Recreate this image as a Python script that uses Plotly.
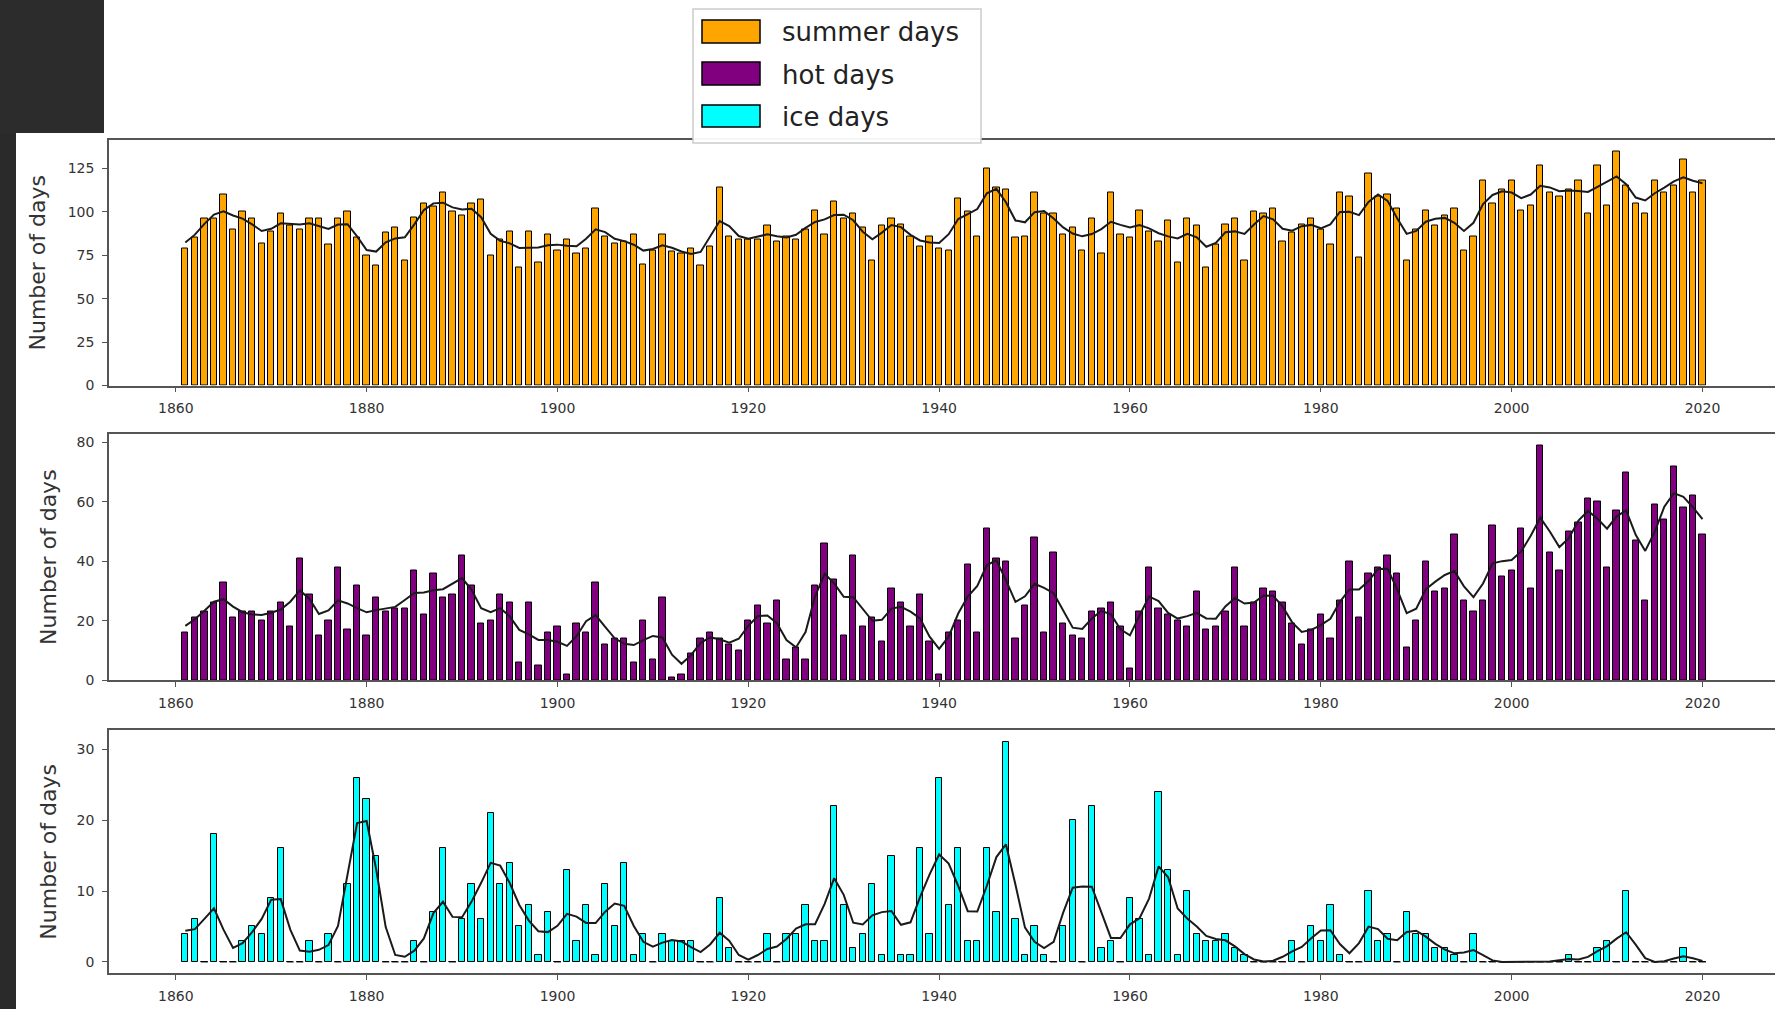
import numpy as np
import plotly.graph_objects as go

years = list(range(1861, 2021))

summer_days = [
    79, 85, 96, 96, 110, 90, 100, 96, 82, 89,
    99, 92, 90, 96, 96, 81, 96, 100, 85, 75,
    69, 88, 91, 72, 97, 105, 103, 111, 100, 98,
    105, 107, 75, 84, 89, 68, 89, 71, 87, 78,
    84, 76, 79, 102, 86, 82, 83, 87, 70, 78,
    87, 77, 76, 79, 69, 80, 114, 86, 84, 84,
    84, 92, 83, 86, 84, 90, 101, 87, 106, 96,
    99, 91, 72, 92, 96, 93, 86, 80, 86, 79,
    78, 108, 100, 86, 125, 114, 113, 85, 86, 111,
    99, 99, 87, 91, 78, 96, 76, 111, 87, 85,
    101, 89, 83, 95, 71, 96, 92, 68, 81, 93,
    96, 72, 100, 99, 102, 83, 88, 93, 96, 90,
    81, 111, 109, 74, 122, 109, 110, 102, 72, 90,
    101, 92, 98, 102, 78, 86, 118, 105, 113, 118,
    101, 104, 127, 111, 109, 113, 118, 99, 127, 104,
    135, 115, 105, 99, 118, 111, 115, 130, 111, 118,
]

hot_days = [
    16, 21, 23, 26, 33, 21, 23, 23, 20, 23,
    26, 18, 41, 29, 15, 20, 38, 17, 32, 15,
    28, 23, 24, 24, 37, 22, 36, 28, 29, 42,
    32, 19, 20, 29, 26, 6, 26, 5, 16, 18,
    2, 19, 16, 33, 12, 14, 14, 6, 20, 7,
    28, 1, 2, 9, 14, 16, 14, 12, 10, 20,
    25, 19, 27, 7, 11, 7, 32, 46, 34, 15,
    42, 18, 21, 13, 31, 26, 18, 29, 13, 2,
    16, 20, 39, 16, 51, 41, 40, 14, 25, 48,
    16, 43, 19, 15, 14, 23, 24, 26, 18, 4,
    23, 38, 24, 22, 20, 18, 30, 17, 18, 23,
    38, 18, 26, 31, 30, 26, 19, 12, 17, 22,
    14, 27, 40, 21, 36, 38, 42, 36, 11, 20,
    40, 30, 31, 49, 27, 23, 27, 52, 35, 37,
    51, 31, 79, 43, 37, 50, 53, 61, 60, 38,
    57, 70, 47, 27, 59, 54, 72, 58, 62, 49,
]

ice_days = [
    4, 6, 0, 18, 0, 0, 3, 5, 4, 9,
    16, 0, 0, 3, 0, 4, 0, 11, 26, 23,
    15, 0, 0, 0, 3, 0, 7, 16, 0, 6,
    11, 6, 21, 11, 14, 5, 8, 1, 7, 0,
    13, 3, 8, 1, 11, 5, 14, 1, 4, 0,
    4, 3, 3, 3, 0, 0, 9, 2, 0, 0,
    0, 4, 0, 4, 4, 8, 3, 3, 22, 8,
    2, 4, 11, 1, 15, 1, 1, 16, 4, 26,
    8, 16, 3, 3, 16, 7, 31, 6, 1, 5,
    1, 0, 5, 20, 0, 22, 2, 3, 0, 9,
    6, 1, 24, 13, 1, 10, 4, 3, 3, 4,
    2, 1, 0, 0, 0, 0, 3, 0, 5, 3,
    8, 1, 0, 0, 10, 3, 4, 0, 7, 4,
    4, 2, 2, 1, 0, 4, 0, 0, 0, 0,
    0, 0, 0, 0, 0, 1, 0, 0, 2, 3,
    0, 10, 0, 0, 0, 0, 0, 2, 0, 0,
]

x_ticks = [1860, 1880, 1900, 1920, 1940, 1960, 1980, 2000, 2020]
series_names = ["summer days", "hot days", "ice days"]
series_colors = ["#FFA500", "#800080", "#00FFFF"]


def smooth(values, half=2, std=1.0):
    v = np.asarray(values, dtype=float)
    out = np.zeros_like(v)
    ks = np.arange(-half, half + 1)
    w = np.exp(-0.5 * (ks / std) ** 2)
    n = len(v)
    for i in range(n):
        s = 0.0
        ws = 0.0
        for k, wk in zip(ks, w):
            j = i + k
            if 0 <= j < n:
                s += wk * v[j]
                ws += wk
        out[i] = s / ws
    return out


W, H = 1775, 1009


def px_x(p):
    return p / W


def px_y(p):
    return 1 - p / H


fig = go.Figure()

panels = [
    (summer_days, "x", "y", series_colors[0]),
    (hot_days, "x2", "y2", series_colors[1]),
    (ice_days, "x3", "y3", series_colors[2]),
]

for vals, xa, ya, col in panels:
    fig.add_trace(go.Bar(
        x=years, y=vals, width=0.66,
        marker=dict(color=col, line=dict(color="black", width=1)),
        xaxis=xa, yaxis=ya, showlegend=False, hoverinfo="x+y",
    ))
    zero_years = [yr for yr, v in zip(years, vals) if v == 0]
    if zero_years:
        fig.add_trace(go.Scatter(
            x=zero_years, y=[0] * len(zero_years), mode="markers",
            marker=dict(symbol="line-ew", size=5, color="black",
                        line=dict(color="black", width=1)),
            xaxis=xa, yaxis=ya, showlegend=False, hoverinfo="skip",
        ))
    fig.add_trace(go.Scatter(
        x=years, y=smooth(vals), mode="lines",
        line=dict(color="#1a1a1a", width=2),
        xaxis=xa, yaxis=ya, showlegend=False, hoverinfo="skip",
    ))

x_domain = [px_x(109), 1.0]
y_domains = [
    [px_y(385.5), px_y(139.5)],
    [px_y(680.3), px_y(433.5)],
    [px_y(973.3), px_y(730)],
]
y_ranges = [[0, 141.75], [0, 83], [-1.6, 32.7]]
y_ticks = [[0, 25, 50, 75, 100, 125], [0, 20, 40, 60, 80], [0, 10, 20, 30]]

tick_font = dict(family="DejaVu Sans", size=14, color="#333333")
axis_line = "#555555"

layout = dict(
    width=W, height=H,
    margin=dict(l=0, r=0, t=0, b=0),
    paper_bgcolor="white", plot_bgcolor="white",
    showlegend=False, bargap=0,
    font=dict(family="DejaVu Sans"),
)
for i in range(3):
    sfx = "" if i == 0 else str(i + 1)
    layout["xaxis" + sfx] = dict(
        domain=x_domain, range=[1853.0, 2027.6], anchor="y" + sfx,
        tickvals=x_ticks, ticks="outside", ticklen=5, tickcolor=axis_line,
        showline=True, linecolor=axis_line, linewidth=1.5, mirror=True,
        showgrid=False, zeroline=False, tickfont=tick_font,
        ticklabelstandoff=4, automargin=False,
    )
    layout["yaxis" + sfx] = dict(
        domain=y_domains[i], range=y_ranges[i], anchor="x" + sfx,
        tickvals=y_ticks[i], ticks="outside", ticklen=5, tickcolor=axis_line,
        showline=True, linecolor=axis_line, linewidth=1.5,
        showgrid=False, zeroline=False, tickfont=tick_font,
        ticklabelstandoff=5, automargin=False,
    )
fig.update_layout(**layout)

shapes = []
# dark page background on the left
shapes.append(dict(type="rect", xref="paper", yref="paper", layer="below",
                   x0=0, x1=px_x(104), y0=px_y(133), y1=1,
                   fillcolor="#2c2c2c", line=dict(width=0)))
shapes.append(dict(type="rect", xref="paper", yref="paper", layer="below",
                   x0=0, x1=px_x(16), y0=0, y1=px_y(133),
                   fillcolor="#2a2a2a", line=dict(width=0)))
# legend box
shapes.append(dict(type="rect", xref="paper", yref="paper", layer="above",
                   x0=px_x(693), x1=px_x(981), y0=px_y(143), y1=px_y(9),
                   fillcolor="rgba(255,255,255,0.95)",
                   line=dict(color="#cccccc", width=1.5)))
swatch_rows = [(20, 43), (62, 85), (105, 127)]
text_rows = [32, 75, 117]
annotations = []
for (y0, y1), ty, name, col in zip(swatch_rows, text_rows, series_names, series_colors):
    shapes.append(dict(type="rect", xref="paper", yref="paper", layer="above",
                       x0=px_x(702), x1=px_x(760), y0=px_y(y1), y1=px_y(y0),
                       fillcolor=col, line=dict(color="black", width=1.5)))
    annotations.append(dict(text=name, xref="paper", yref="paper",
                            x=px_x(780), y=px_y(ty), xanchor="left", yanchor="middle",
                            showarrow=False,
                            font=dict(family="DejaVu Sans", size=26, color="#222222")))

label_x = [37, 49, 49]
for i in range(3):
    yc = (y_domains[i][0] + y_domains[i][1]) / 2
    annotations.append(dict(text="Number of days", xref="paper", yref="paper",
                            x=px_x(label_x[i]), y=yc, xanchor="center", yanchor="middle",
                            textangle=-90, showarrow=False,
                            font=dict(family="DejaVu Sans", size=22, color="#333333")))

fig.update_layout(shapes=shapes, annotations=annotations)
fig.write_html(
    "out.html",
    config={"displayModeBar": False},
    post_script="document.body.style.margin='0px';document.body.style.overflow='hidden';",
)
